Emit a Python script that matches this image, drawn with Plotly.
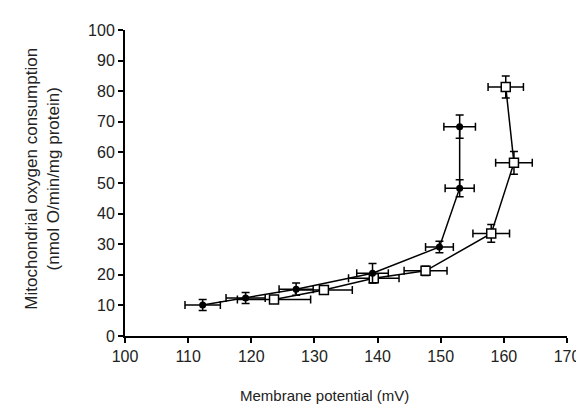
import plotly.graph_objects as go

# Filled circles series
filled_x = [112.3, 119.1, 127.1, 139.2, 149.8, 153.0, 153.0]
filled_y = [10.1, 12.4, 15.3, 20.5, 29.1, 48.3, 68.4]
filled_xerr = [2.8, 3.1, 2.7, 2.5, 2.2, 2.3, 2.5]
filled_yerr = [1.8, 1.8, 2.0, 3.2, 1.9, 2.8, 3.8]

# Open squares series
open_x = [123.6, 131.5, 139.4, 147.6, 158.0, 161.6, 160.3]
open_y = [11.9, 15.0, 18.9, 21.3, 33.5, 56.6, 81.4]
open_xerr = [5.8, 4.5, 4.0, 3.4, 2.9, 2.9, 2.8]
open_yerr = [1.0, 1.0, 1.5, 1.5, 2.9, 3.7, 3.6]

x_ticks = [100, 110, 120, 130, 140, 150, 160, 170]
y_ticks = [0, 10, 20, 30, 40, 50, 60, 70, 80, 90, 100]

fig = go.Figure()

err_style = dict(type="data", color="black", thickness=1.5, width=4)

fig.add_trace(go.Scatter(
    x=open_x, y=open_y, mode="lines+markers",
    line=dict(color="black", width=1.5),
    marker=dict(symbol="square", size=9, color="white", line=dict(color="black", width=1.5)),
    error_x=dict(array=open_xerr, **err_style),
    error_y=dict(array=open_yerr, **err_style),
    showlegend=False,
))
fig.add_trace(go.Scatter(
    x=filled_x, y=filled_y, mode="lines+markers",
    line=dict(color="black", width=1.5),
    marker=dict(symbol="circle", size=7, color="black"),
    error_x=dict(array=filled_xerr, **err_style),
    error_y=dict(array=filled_yerr, **err_style),
    showlegend=False,
))

axis_common = dict(
    showline=True, linecolor="black", linewidth=2,
    ticks="outside", ticklen=5, tickwidth=2, tickcolor="black",
    showgrid=False, zeroline=False,
    tickfont=dict(family="Liberation Sans, Arial, sans-serif", size=16, color="#222"),
)

fig.update_xaxes(range=[100, 170], tickvals=x_ticks, ticktext=[str(v) for v in x_ticks], **axis_common)
fig.update_yaxes(range=[0, 100], tickvals=y_ticks, ticktext=[str(v) for v in y_ticks], **axis_common)

fig.update_layout(
    width=584, height=416,
    margin=dict(l=117, r=19, t=22, b=88),
    plot_bgcolor="white", paper_bgcolor="white",
    font=dict(family="Liberation Sans, Arial, sans-serif", size=15, color="#222"),
    annotations=[
        dict(text="Membrane potential (mV)", xref="paper", yref="paper",
             x=0.451, y=-0.193, showarrow=False, xanchor="center", yanchor="middle",
             font=dict(size=15)),
        dict(text="Mitochondrial oxygen consumption<br>(nmol O/min/mg protein)",
             xref="paper", yref="paper", x=-0.1886, y=0.513, textangle=-90,
             showarrow=False, xanchor="center", yanchor="middle", font=dict(size=17)),
    ],
)

fig.write_html("out.html")
